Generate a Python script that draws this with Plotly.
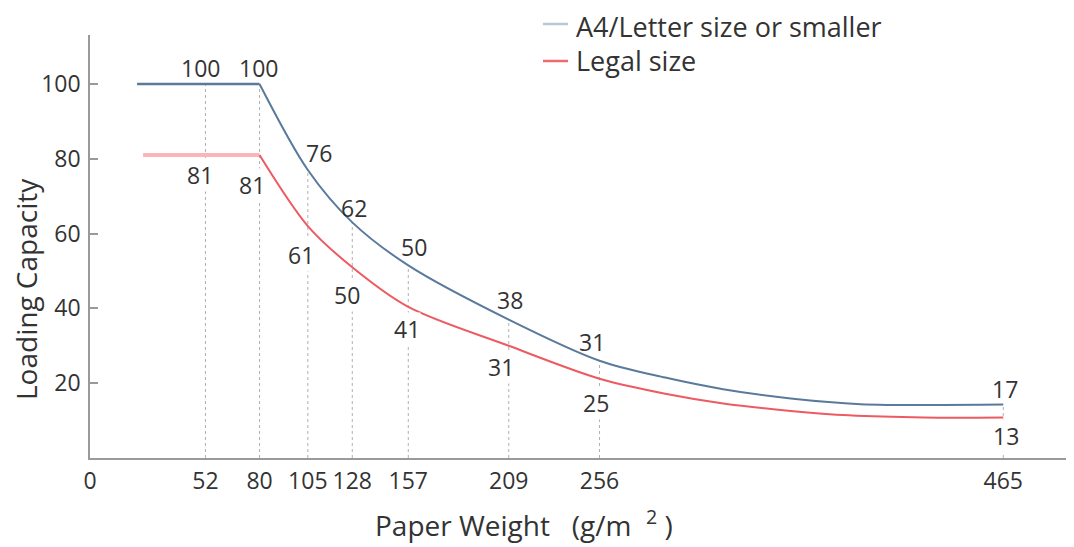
import numpy as np
import plotly.graph_objects as go

# ---- data ----
tick_weights = [52, 80, 105, 128, 157, 209, 256, 465]
a4_labels = [100, 100, 76, 62, 50, 38, 31, 17]
legal_labels = [81, 81, 61, 50, 41, 31, 25, 13]

a4_flat_x = [16.6, 80]
a4_flat_y = [100, 100]
a4_curve_x = [80, 105, 128, 157, 209, 256, 290, 320, 355, 391, 465]
a4_curve_y = [100, 77, 63, 51.5, 37, 26, 21.5, 18.4, 15.9, 14.4, 14.3]

legal_flat_x = [19.7, 80]
legal_flat_y = [81, 81]
legal_curve_x = [80, 105, 128, 157, 209, 256, 290, 320, 355, 385, 424, 465]
legal_curve_y = [81, 62, 51, 40.4, 30, 21.2, 17.2, 14.6, 12.6, 11.4, 10.8, 10.8]

series_names = ["A4/Letter size or smaller", "Legal size"]

# ---- styles ----
A4_COLOR = "#5a7a9b"
A4_LEGEND = "#b7c9d9"
LEGAL_COLOR = "#ee5a62"
LEGAL_FLAT = "#fbb4b8"
LEGAL_LEGEND = "#ef6a6d"
TEXT = "#333333"
AXIS = "#9a9a9a"
FONT = "Open Sans"

# label offsets in px (dx, dy) relative to each data label's point
a4_offsets = [(-5, 16), (-1, 16), (11, 21), (2, 18), (6, 24), (1, 16), (-8, 0), (2, 5)]
legal_offsets = [(-5, -20), (-8, -30), (-7, -25), (-5, -24), (-1, -24), (-8, -25), (-4, -38), (3, -27)]

fig = go.Figure()

# dotted guide lines from the axis up to the A4 curve
a4_all_x = a4_flat_x + a4_curve_x[1:]
a4_all_y = a4_flat_y + a4_curve_y[1:]
for w in tick_weights:
    top = float(np.interp(w, a4_all_x, a4_all_y))
    fig.add_trace(go.Scatter(x=[w, w], y=[0, top], mode="lines",
                             line=dict(color="#b0b0b0", width=1, dash="dot"),
                             showlegend=False, hoverinfo="skip"))

# Legal size
fig.add_trace(go.Scatter(x=legal_flat_x, y=legal_flat_y, mode="lines",
                         line=dict(color=LEGAL_FLAT, width=4), showlegend=False))
fig.add_trace(go.Scatter(x=legal_curve_x, y=legal_curve_y, mode="lines",
                         line=dict(color=LEGAL_COLOR, width=2, shape="spline", smoothing=0.9),
                         name=series_names[1], showlegend=False))
# A4
fig.add_trace(go.Scatter(x=a4_flat_x, y=a4_flat_y, mode="lines",
                         line=dict(color=A4_COLOR, width=2.5), showlegend=False))
fig.add_trace(go.Scatter(x=a4_curve_x, y=a4_curve_y, mode="lines",
                         line=dict(color=A4_COLOR, width=2, shape="spline", smoothing=0.9),
                         name=series_names[0], showlegend=False))

# data labels
for w, v, (dx, dy) in zip(tick_weights, a4_labels, a4_offsets):
    fig.add_annotation(x=w, y=v, text=str(v), showarrow=False, xshift=dx, yshift=dy,
                       font=dict(size=23, color=TEXT, family=FONT))
for w, v, (dx, dy) in zip(tick_weights, legal_labels, legal_offsets):
    fig.add_annotation(x=w, y=v, text=str(v), showarrow=False, xshift=dx, yshift=dy,
                       bgcolor="white", borderpad=0,
                       font=dict(size=23, color=TEXT, family=FONT))

# page body has an 8px margin: figure is placed at (8, 8)
OFF = 8
PLOT_L, PLOT_T, PLOT_W, PLOT_H = 90, 35, 984, 423
x0, x1 = -7.76, 501.6


def px2paper_x(px):
    return (px - PLOT_L) / PLOT_W


def px2paper_y(py):
    return (PLOT_T + PLOT_H - py) / PLOT_H


# manual legend: line sample + text per series
legend_rows = [(series_names[0], A4_LEGEND, 24, 26), (series_names[1], LEGAL_LEGEND, 61, 61)]
for name, col, py, ty in legend_rows:
    fig.add_shape(type="line", xref="paper", yref="paper",
                  x0=px2paper_x(543), x1=px2paper_x(568),
                  y0=px2paper_y(py), y1=px2paper_y(py),
                  line=dict(color=col, width=2.5))
    fig.add_annotation(xref="paper", yref="paper", x=px2paper_x(574), y=px2paper_y(ty),
                       xanchor="left", yanchor="middle", text=name, showarrow=False,
                       font=dict(size=27, color=TEXT, family=FONT))

# axis titles
fig.add_annotation(xref="paper", yref="paper", x=px2paper_x(524), y=px2paper_y(523),
                   text="Paper Weight&nbsp;&nbsp;&nbsp;(g/m&nbsp;&nbsp;<sup>2</sup>&nbsp;)",
                   showarrow=False, xanchor="center", yanchor="middle",
                   font=dict(size=28, color=TEXT, family=FONT))
fig.add_annotation(xref="paper", yref="paper", x=px2paper_x(26), y=px2paper_y(289),
                   text="Loading Capacity", textangle=-90, showarrow=False,
                   xanchor="center", yanchor="middle",
                   font=dict(size=28, color=TEXT, family=FONT))

fig.update_xaxes(range=[x0, x1], showgrid=False, zeroline=False,
                 showline=True, linecolor=AXIS, linewidth=1.5,
                 tickmode="array", tickvals=[x0] + tick_weights,
                 ticktext=["0"] + [str(w) for w in tick_weights],
                 ticks="", ticklabelstandoff=2,
                 tickfont=dict(size=23, color=TEXT, family=FONT))
fig.update_yaxes(range=[0, 113.1], showgrid=False, zeroline=False,
                 showline=True, linecolor=AXIS, linewidth=1.5,
                 tickmode="array", tickvals=[20, 40, 60, 80, 100],
                 ticks="inside", ticklen=8, tickcolor=AXIS, tickwidth=1.5,
                 ticklabelstandoff=3,
                 tickfont=dict(size=23, color=TEXT, family=FONT))

fig.update_layout(width=1074 - OFF, height=547 - OFF,
                  margin=dict(l=PLOT_L - OFF, r=0, t=PLOT_T - OFF, b=547 - PLOT_T - PLOT_H),
                  plot_bgcolor="white", paper_bgcolor="white", showlegend=False,
                  font=dict(family=FONT, color=TEXT))

fig.write_html("out.html")
